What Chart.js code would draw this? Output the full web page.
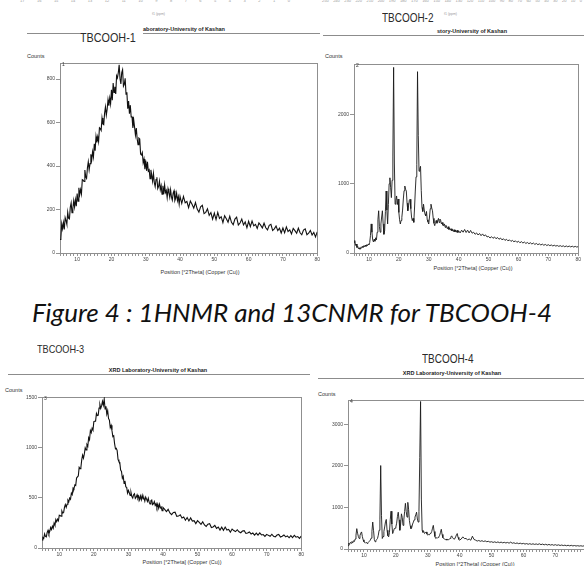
<!DOCTYPE html>
<html><head><meta charset="utf-8">
<script src="https://cdn.jsdelivr.net/npm/chart.js@4"></script>
<style>
html,body{margin:0;padding:0;background:#fff;}
body{width:584px;height:566px;overflow:hidden;position:relative;font-family:"Liberation Sans",Arial,sans-serif;}
.a{position:absolute;white-space:nowrap;line-height:1;}
canvas{position:absolute;}
.sm{font-size:5.5px;color:#333;}
.tt{font-size:5.5px;color:#222;font-weight:bold;}
.tb{font-family:"Liberation Sans",Arial,sans-serif;color:#2a2a2a;transform-origin:left center;transform:scaleX(0.83);}
.hl{position:absolute;height:1px;background:#8c8c8c;}
.row{position:absolute;display:flex;justify-content:space-between;font-size:4px;color:#9a9a9a;line-height:1;}
.pn{font-size:5px;color:#333;}
#cap{position:absolute;left:0;width:584px;text-align:center;top:296px;font-family:Lato,"Open Sans",sans-serif;font-style:italic;font-size:26px;color:#111;white-space:nowrap;}
</style></head><body>

<div class="row" style="left:20px;top:-1px;width:270px"><span>17</span><span>16</span><span>15</span><span>14</span><span>13</span><span>12</span><span>11</span><span>10</span><span>9</span><span>8</span><span>7</span><span>6</span><span>5</span><span>4</span><span>3</span><span>2</span><span>1</span><span>0</span></div>
<div class="row" style="left:322px;top:-1px;width:260px"><span>250</span><span>240</span><span>230</span><span>220</span><span>210</span><span>200</span><span>190</span><span>180</span><span>170</span><span>160</span><span>150</span><span>140</span><span>130</span><span>120</span><span>110</span><span>100</span><span>90</span><span>80</span><span>70</span><span>60</span><span>50</span><span>40</span><span>30</span><span>20</span><span>10</span><span>0</span></div>
<div class="a" style="left:152px;top:13px;font-size:3.5px;color:#999">f1 (ppm)</div>
<div class="a" style="left:444px;top:13px;font-size:3.5px;color:#999">f1 (ppm)</div>

<div class="hl" style="left:27px;top:33px;width:53px"></div>
<div class="hl" style="left:143px;top:33px;width:177px"></div>
<div class="a tt" style="left:143px;top:27px">aboratory-University of Kashan</div>
<div class="a tb" style="left:80px;top:31px;font-size:13px">TBCOOH-1</div>

<div class="hl" style="left:323px;top:35px;width:261px"></div>
<div class="a tt" style="left:437px;top:29px">story-University of Kashan</div>
<div class="a tb" style="left:382px;top:12px;font-size:12px">TBCOOH-2</div>

<div class="hl" style="left:8px;top:374px;width:302px"></div>
<div class="a tt" style="left:158px;top:368px;transform:translateX(-50%)">XRD Laboratory-University of Kashan</div>
<div class="a tb" style="left:37px;top:344px;font-size:11px">TBCOOH-3</div>

<div class="hl" style="left:318px;top:378px;width:266px"></div>
<div class="a tt" style="left:452px;top:371px;transform:translateX(-50%)">XRD Laboratory-University of Kashan</div>
<div class="a tb" style="left:422px;top:353px;font-size:12px">TBCOOH-4</div>

<div class="a sm" style="left:27px;top:54px">Counts</div>
<div class="a sm" style="left:325px;top:54px">Counts</div>
<div class="a sm" style="left:5px;top:388px">Counts</div>
<div class="a sm" style="left:318px;top:392px">Counts</div>

<div class="a sm" style="left:200px;top:270px;transform:translateX(-50%)">Position [°2Theta] (Copper (Cu))</div>
<div class="a sm" style="left:473px;top:266px;transform:translateX(-50%)">Position [°2Theta] (Copper (Cu))</div>
<div class="a sm" style="left:182px;top:560px;transform:translateX(-50%)">Position [°2Theta] (Copper (Cu))</div>
<div class="a sm" style="left:475px;top:562px;transform:translateX(-50%)">Position [°2Theta] (Copper (Cu))</div>

<canvas id="c1" width="301" height="214" style="left:20px;top:59px"></canvas>
<canvas id="c2" width="264" height="213" style="left:318px;top:60px"></canvas>
<canvas id="c3" width="299" height="175" style="left:6px;top:393px"></canvas>
<canvas id="c4" width="279" height="173" style="left:312px;top:396px"></canvas>

<div class="a pn" style="left:62px;top:62px">1</div>
<div class="a pn" style="left:356px;top:63px">2</div>
<div class="a pn" style="left:44px;top:396px">3</div>
<div class="a pn" style="left:350px;top:399px">4</div>

<div id="cap">Figure 4 : 1HNMR and 13CNMR for TBCOOH-4</div>

<script>
// 2θ positions of the scan (degrees): 0.25° steps to 40°, then 0.5° steps
const theta=[5,5.25,5.5,5.75,6,6.25,6.5,6.75,7,7.25,7.5,7.75,8,8.25,8.5,8.75,9,9.25,9.5,9.75,10,10.25,10.5,10.75,11,11.25,11.5,11.75,12,12.25,12.5,12.75,13,13.25,13.5,13.75,14,14.25,14.5,14.75,15,15.25,15.5,15.75,16,16.25,16.5,16.75,17,17.25,17.5,17.75,18,18.25,18.5,18.75,19,19.25,19.5,19.75,20,20.25,20.5,20.75,21,21.25,21.5,21.75,22,22.25,22.5,22.75,23,23.25,23.5,23.75,24,24.25,24.5,24.75,25,25.25,25.5,25.75,26,26.25,26.5,26.75,27,27.25,27.5,27.75,28,28.25,28.5,28.75,29,29.25,29.5,29.75,30,30.25,30.5,30.75,31,31.25,31.5,31.75,32,32.25,32.5,32.75,33,33.25,33.5,33.75,34,34.25,34.5,34.75,35,35.25,35.5,35.75,36,36.25,36.5,36.75,37,37.25,37.5,37.75,38,38.25,38.5,38.75,39,39.25,39.5,39.75,40,40.5,41,41.5,42,42.5,43,43.5,44,44.5,45,45.5,46,46.5,47,47.5,48,48.5,49,49.5,50,50.5,51,51.5,52,52.5,53,53.5,54,54.5,55,55.5,56,56.5,57,57.5,58,58.5,59,59.5,60,60.5,61,61.5,62,62.5,63,63.5,64,64.5,65,65.5,66,66.5,67,67.5,68,68.5,69,69.5,70,70.5,71,71.5,72,72.5,73,73.5,74,74.5,75,75.5,76,76.5,77,77.5,78,78.5,79,79.5,80];

const counts1=[62,68,135,111,140,108,163,149,132,188,160,157,210,230,185,205,241,211,245,215,
273,238,300,269,292,271,337,335,329,382,350,343,392,420,382,411,454,429,466,441,
502,471,536,509,535,512,576,572,564,621,593,590,643,672,634,662,705,678,713,686,
751,703,782,738,765,732,815,805,830,866,802,778,830,843,767,776,804,730,739,664,
699,641,680,626,626,575,611,578,542,575,525,498,529,525,455,451,462,415,432,385,
425,378,420,377,383,342,382,358,330,366,324,305,338,348,296,306,331,291,309,270,
309,271,313,278,288,255,295,277,256,291,257,243,275,286,241,252,275,241,259,225,260,
228,260,231,237,209,239,224,206,232,202,188,212,219,181,187,203,173,186,156,184,
154,187,159,167,140,172,158,142,169,141,130,156,165,129,138,156,129,143,116,146,
121,147,125,132,113,138,128,115,137,116,106,127,132,104,111,124,103,114,92,115,
93,120,99,106,88,113,103,91,114,93,84,105,111,84,91,104,83,95,74,97];

const counts3=[80,104,95,141,116,111,155,176,141,167,204,184,217,196,249,226,283,263,288,271,
326,324,318,369,348,352,404,433,406,436,477,461,498,486,547,532,598,590,628,622,
697,709,718,804,791,802,881,926,895,938,998,977,1031,1014,1099,1079,1171,1150,1193,1175,
1260,1264,1264,1341,1320,1323,1394,1431,1392,1418,1462,1424,1483,1386,1413,1335,1369,1290,1275,1200,
1223,1168,1110,1117,1041,989,993,971,883,861,854,777,764,696,715,644,669,609,604,547,
574,551,525,554,513,498,531,541,495,507,530,496,515,480,519,482,525,490,500,468,
508,487,464,496,457,440,472,479,432,441,462,425,442,404,438,398,437,399,407,371,405,
385,363,385,350,333,354,357,315,318,331,299,309,277,304,270,300,268,273,243,272,
255,236,261,230,215,238,243,204,210,225,196,209,179,208,177,209,179,186,158,189,
174,163,182,161,152,169,173,145,149,160,140,149,129,149,128,150,130,134,115,136,
126,117,137,117,110,129,135,110,117,130,111,121,102,123,103,127,108,114,96,119];

const counts2=[150,180,110,130,80,95,60,75,55,80,70,95,80,105,90,115,95,120,105,130,120,150,250,420,300,190,160,200,170,220,190,300,480,610,380,300,420,520,610,420,270,320,600,895,620,420,700,1000,1086,950,800,1050,1400,2681,1300,705,760,824,700,780,586,480,419,470,514,620,780,900,967,920,895,720,610,680,760,776,640,520,467,500,443,650,895,1100,1276,2619,1700,1181,1220,1252,900,657,600,705,620,560,538,600,480,450,419,520,640,705,650,610,500,430,395,440,470,430,467,500,440,490,470,420,440,400,395,420,370,400,371,350,380,340,360,330,350,320,340,310,336,305,330,300,328,296,320,
290,330,300,340,296,330,290,326,286,300,270,290,260,282,250,276,246,262,232,240,216,236,212,232,206,224,198,216,190,206,182,198,176,190,168,182,162,176,154,170,148,164,144,158,138,152,134,148,130,144,124,138,120,132,116,128,112,124,108,120,106,116,102,112,100,108,96,106,94,104,90,102,90,100,88,98,86,96,86,92];

const counts4=[80,140,110,160,140,180,150,200,180,240,330,489,380,300,253,320,380,410,300,220,174,160,140,160,134,150,170,190,213,260,420,647,450,230,174,200,230,253,330,450,700,2005,800,253,300,420,529,650,710,450,320,292,400,700,908,600,371,420,489,500,529,620,780,884,700,450,600,845,760,568,700,900,1097,900,766,1121,950,687,560,489,520,600,647,700,766,820,884,720,647,900,2200,3544,1200,450,400,420,371,390,410,360,332,350,340,371,380,420,500,568,420,300,253,270,260,280,292,330,400,474,350,270,253,240,225,240,213,230,220,240,253,290,316,280,250,240,253,290,340,371,280,230,213,
240,292,250,253,220,240,210,308,230,213,190,205,185,200,180,195,175,185,165,175,158,172,155,170,152,165,148,160,145,158,140,165,138,150,132,145,128,140,124,135,118,130,114,128,112,125,110,122,108,125,104,118,100,114,96,110,94,106,90,104,88,100,84,96,82,92,78,90,76,88,74,84,72,80,70,78,68,76,66,72];

const yTicks1=[0,200,400,600,800], yMax1=874;
const yTicks2=[0,1000,2000], yMax2=2730;
const yTicks3=[0,500,1000,1500], yMax3=1505;
const yTicks4=[0,1000,2000,3000], yMax4=3580;
const xLabelEvery=10;

const framePlugin={id:'frame',beforeDatasetsDraw(c){const a=c.chartArea,ctx=c.ctx;ctx.save();ctx.strokeStyle='#8f8f8f';ctx.lineWidth=1;
ctx.strokeRect(Math.round(a.left)+0.5,Math.round(a.top)+0.5,Math.round(a.right-a.left),Math.round(a.bottom-a.top));ctx.restore();}};

function makeChart(id,counts,yMax,yTicks,yW,lw,col){
  return new Chart(document.getElementById(id),{
    type:'line',
    data:{datasets:[{data:theta.map((t,i)=>({x:t,y:counts[i]})),borderColor:col,borderWidth:lw,pointRadius:0,tension:0,fill:false}]},
    options:{responsive:false,animation:false,devicePixelRatio:1,
      layout:{padding:{top:2,right:2,left:0,bottom:0}},
      plugins:{legend:{display:false},tooltip:{enabled:false}},
      scales:{
        x:{type:'linear',min:5,max:80,border:{display:false},
          grid:{drawOnChartArea:false,drawTicks:true,tickLength:3,color:'#666',lineWidth:0.7},
          ticks:{stepSize:1,autoSkip:false,maxRotation:0,padding:1,font:{size:5,family:'Liberation Sans'},color:'#444',callback:v=>v%xLabelEvery===0?String(v):''},
          afterFit:s=>{s.height=20;}},
        y:{type:'linear',min:0,max:yMax,border:{display:false},
          grid:{drawOnChartArea:false,drawTicks:true,tickLength:4,color:'#666',lineWidth:0.7},
          ticks:{padding:1,font:{size:5,family:'Liberation Sans'},color:'#444',callback:v=>String(v)},
          afterBuildTicks:s=>{s.ticks=yTicks.map(v=>({value:v}));},
          afterFit:s=>{s.width=yW;}}
      }},
    plugins:[framePlugin]
  });
}
makeChart('c1',counts1,yMax1,yTicks1,40,1.1,'#111');
makeChart('c2',counts2,yMax2,yTicks2,36,0.9,'#1a1a1a');
makeChart('c3',counts3,yMax3,yTicks3,36,1.1,'#111');
makeChart('c4',counts4,yMax4,yTicks4,36,0.9,'#1a1a1a');
</script>
</body></html>
